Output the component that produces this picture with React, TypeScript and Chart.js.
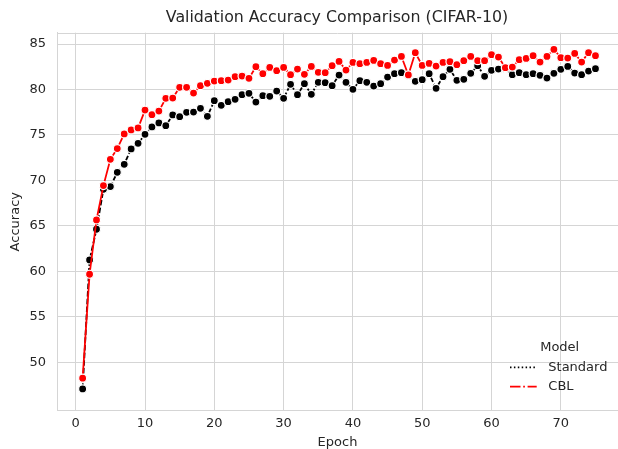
import React, { useEffect, useRef } from "react";
import { Chart, registerables } from "chart.js";

Chart.register(...registerables);

const EPOCHS = [
  1, 2, 3, 4, 5, 6, 7, 8, 9, 10, 11, 12, 13, 14, 15, 16, 17, 18, 19, 20, 21, 22, 23, 24, 25,
  26, 27, 28, 29, 30, 31, 32, 33, 34, 35, 36, 37, 38, 39, 40, 41, 42, 43, 44, 45, 46, 47, 48, 49, 50,
  51, 52, 53, 54, 55, 56, 57, 58, 59, 60, 61, 62, 63, 64, 65, 66, 67, 68, 69, 70, 71, 72, 73, 74, 75,
];

const STANDARD = [
  47.07, 61.25, 64.63, 69.02, 69.32, 70.89, 71.77, 73.46, 74.08, 75.07,
  75.88, 76.32, 76.02, 77.2, 77.01, 77.49, 77.52, 77.93, 77.05, 78.77,
  78.26, 78.66, 78.92, 79.43, 79.58, 78.62, 79.32, 79.25, 79.83, 79.03,
  80.57, 79.43, 80.64, 79.47, 80.79, 80.75, 80.42, 81.59, 80.79, 80.02,
  80.97, 80.79, 80.38, 80.64, 81.37, 81.74, 81.85, 81.55, 80.9, 81.08,
  81.74, 80.13, 81.41, 82.22, 81.01, 81.12, 81.78, 82.62, 81.45, 82.11,
  82.25, 82.3, 81.63, 81.85, 81.63, 81.74, 81.56, 81.26, 81.78, 82.22,
  82.54, 81.81, 81.63, 82.03, 82.29,
];

const CBL = [
  48.25, 59.68, 65.65, 69.43, 72.32, 73.5, 75.11, 75.55, 75.77, 77.74,
  77.23, 77.63, 79.03, 79.06, 80.24, 80.24, 79.61, 80.42, 80.68, 80.93,
  80.97, 81.04, 81.41, 81.48, 81.23, 82.51, 81.74, 82.43, 82.07, 82.43,
  81.63, 82.25, 81.67, 82.54, 81.89, 81.85, 82.62, 83.09, 82.14, 82.98,
  82.84, 82.98, 83.2, 82.84, 82.65, 83.24, 83.64, 81.6, 84.05, 82.65,
  82.87, 82.58, 82.98, 83.06, 82.73, 83.17, 83.64, 83.17, 83.17, 83.83,
  83.57, 82.4, 82.47, 83.28, 83.42, 83.72, 83.02, 83.64, 84.41, 83.5,
  83.46, 83.97, 83.02, 84.05, 83.72,
];

const X_TICKS = [0, 10, 20, 30, 40, 50, 60, 70];
const Y_TICKS = [50, 55, 60, 65, 70, 75, 80, 85];
const SERIES_NAMES = ["Standard", "CBL"];
const TITLE = "Validation Accuracy Comparison (CIFAR-10)";
const X_LABEL = "Epoch";
const Y_LABEL = "Accuracy";
const LEGEND_TITLE = "Model";

const FONT = "'DejaVu Sans', sans-serif";
const TEXT = "#262626";
const GRID = "#d5d5d5";
const LEGEND_DOTTED = [1.5, 2.4];
const LEGEND_DASHDOT = [10.5, 2.7, 1.7, 2.7];
const LINE_DASHED = [5.5, 2.2];

export default function App() {
  const ref = useRef<HTMLCanvasElement>(null);

  useEffect(() => {
    const canvas = ref.current;
    if (!canvas) return;

    const decor = {
      id: "decor",
      afterDraw(chart: any) {
        const { ctx, chartArea: a, scales } = chart;
        ctx.save();
        ctx.strokeStyle = GRID;
        ctx.lineWidth = 1;
        ctx.setLineDash([]);
        ctx.beginPath();
        const ty = Math.round(a.top) + 0.5;
        ctx.moveTo(a.left, ty);
        ctx.lineTo(a.right, ty);
        ctx.stroke();

        ctx.fillStyle = TEXT;
        ctx.font = `15.8px ${FONT}`;
        ctx.textAlign = "center";
        ctx.textBaseline = "middle";
        ctx.fillText(TITLE, scales.x.getPixelForValue(37.7), 17.8);

        ctx.font = `13px ${FONT}`;
        ctx.fillText(LEGEND_TITLE, a.right - 58.3, a.bottom - 63.4);
        const styles = [
          { color: "#000000", dash: LEGEND_DOTTED },
          { color: "#ff0000", dash: LEGEND_DASHDOT },
        ];
        const rows = [a.bottom - 43.4, a.bottom - 24];
        SERIES_NAMES.forEach((name, i) => {
          const y = rows[i];
          ctx.strokeStyle = styles[i].color;
          ctx.lineWidth = 1.8;
          ctx.setLineDash(styles[i].dash);
          ctx.beginPath();
          ctx.moveTo(a.right - 108, y);
          ctx.lineTo(a.right - 81.3, y);
          ctx.stroke();
          ctx.setLineDash([]);
          ctx.textAlign = "left";
          ctx.fillStyle = TEXT;
          ctx.fillText(name, a.right - 69.7, y);
        });
        ctx.restore();
      },
    };

    const chart = new Chart(canvas, {
      type: "line",
      data: {
        datasets: [
          {
            label: SERIES_NAMES[0],
            data: EPOCHS.map((e, i) => ({ x: e, y: STANDARD[i] })),
            borderColor: "#000000",
            backgroundColor: "#000000",
            borderWidth: 1.8,
            borderDash: LINE_DASHED,
            pointRadius: 4,
            pointBackgroundColor: "#000000",
            pointBorderColor: "#ffffff",
            pointBorderWidth: 1.2,
            tension: 0,
            order: 1,
          },
          {
            label: SERIES_NAMES[1],
            data: EPOCHS.map((e, i) => ({ x: e, y: CBL[i] })),
            borderColor: "#ff0000",
            backgroundColor: "#ff0000",
            borderWidth: 1.8,
            pointRadius: 4,
            pointBackgroundColor: "#ff0000",
            pointBorderColor: "#ffffff",
            pointBorderWidth: 1.2,
            tension: 0,
            order: 0,
          },
        ],
      },
      options: {
        responsive: false,
        animation: false,
        devicePixelRatio: 1,
        layout: { autoPadding: false, padding: { top: 32.7, right: 0, bottom: 0, left: 0 } },
        plugins: {
          legend: { display: false },
          title: { display: false },
          tooltip: { enabled: false },
        },
        scales: {
          x: {
            type: "linear",
            min: -2.7,
            max: 78.25,
            afterBuildTicks: (s: any) => {
              s.ticks = X_TICKS.map((v) => ({ value: v }));
            },
            afterFit: (s: any) => {
              s.height = 38.3;
              s.paddingLeft = 0;
              s.paddingRight = 0;
            },
            grid: { color: GRID, lineWidth: 1, drawTicks: false },
            border: { display: true, color: GRID, width: 1 },
            ticks: {
              padding: 5.2,
              color: TEXT,
              font: { family: FONT, size: 13 },
              maxRotation: 0,
              autoSkip: false,
              callback: (v: any) => String(v),
            },
            title: {
              display: true,
              text: X_LABEL,
              color: TEXT,
              font: { family: FONT, size: 13, lineHeight: 1 },
              padding: { top: 0, bottom: 0.3 },
            },
          },
          y: {
            type: "linear",
            min: 44.67,
            max: 86.25,
            afterBuildTicks: (s: any) => {
              s.ticks = Y_TICKS.map((v) => ({ value: v }));
            },
            afterFit: (s: any) => {
              s.width = 57;
              s.paddingTop = 0;
              s.paddingBottom = 0;
            },
            grid: { color: GRID, lineWidth: 1, drawTicks: false },
            border: { display: true, color: GRID, width: 1 },
            ticks: {
              padding: 11,
              color: TEXT,
              font: { family: FONT, size: 13 },
              autoSkip: false,
              callback: (v: any) => String(v),
            },
            title: {
              display: true,
              text: Y_LABEL,
              color: TEXT,
              font: { family: FONT, size: 13, lineHeight: 1 },
              padding: { top: 9.5, bottom: 0 },
            },
          },
        },
      },
      plugins: [decor],
    });

    return () => chart.destroy();
  }, []);

  return (
    <div
      style={{
        position: "fixed",
        left: 0,
        top: 0,
        width: 618,
        height: 449,
        overflow: "hidden",
        background: "#ffffff",
      }}
    >
      <canvas ref={ref} width={618} height={449} style={{ display: "block", width: 618, height: 449 }} />
    </div>
  );
}
